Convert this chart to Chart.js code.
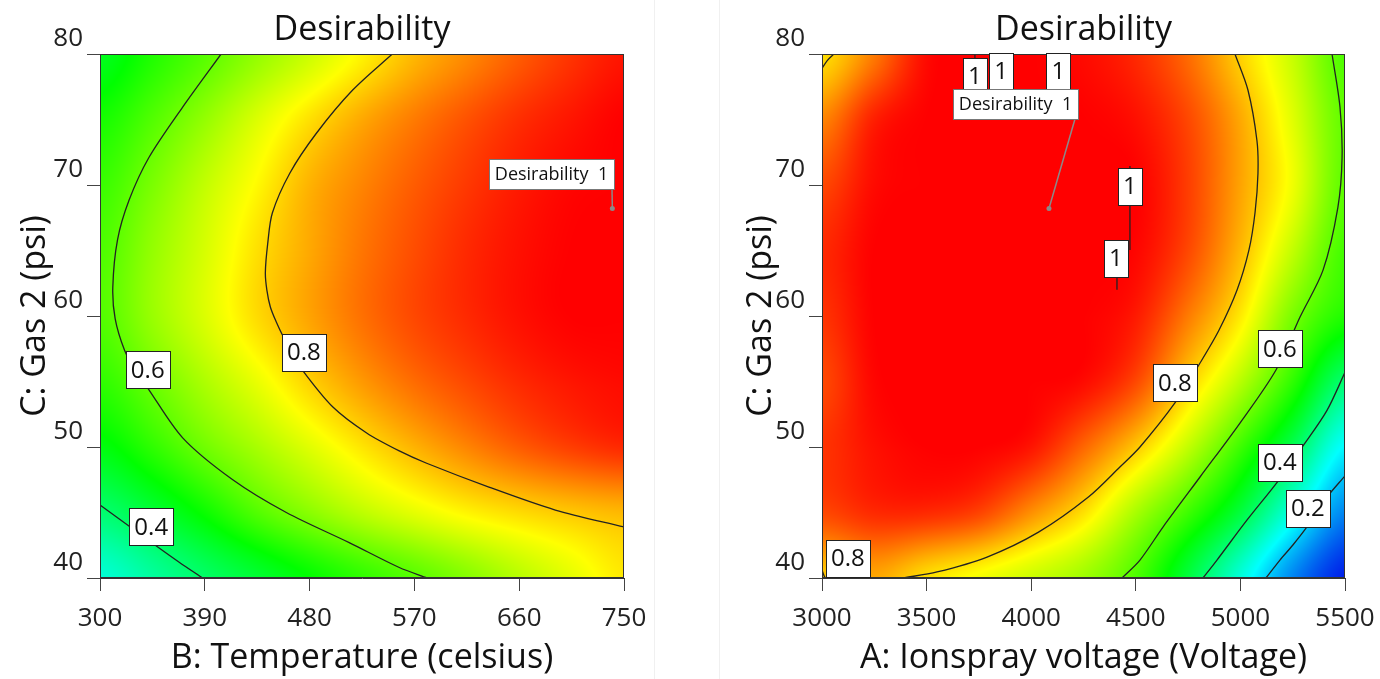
<!DOCTYPE html>
<html>
<head>
<meta charset="utf-8">
<script src="https://cdn.jsdelivr.net/npm/chart.js@4.4.0/dist/chart.umd.min.js"></script>
<style>
  html, body { margin: 0; padding: 0; background: #fff; }
  #wrap { position: relative; width: 1380px; height: 679px; }
  canvas { position: absolute; top: 0; }
  #left { left: 0; }
  #right { left: 690px; }
  .edge { position: absolute; top: 0; width: 1px; height: 679px; background: #f0f0f0; }
</style>
</head>
<body>
<div id="wrap">
  <canvas id="left" width="690" height="679"></canvas>
  <canvas id="right" width="690" height="679"></canvas>
  <div class="edge" style="left:654px"></div>
  <div class="edge" style="left:719px"></div>
</div>
<script>
// grid the desirability was read on
const tempGrid = [300, 345, 390, 435, 480, 525, 570, 615, 660, 705, 750];
const voltGrid = [3000, 3250, 3500, 3750, 4000, 4250, 4500, 4750, 5000, 5250, 5500];
const gasGrid = [80, 75, 70, 65, 60, 55, 50, 45, 40];

// desirability, one row per gasGrid value
const desTemp = [
  [0.47, 0.53, 0.585, 0.645, 0.70, 0.76, 0.82, 0.865, 0.91, 0.95, 0.98],
  [0.52, 0.58, 0.645, 0.715, 0.78, 0.835, 0.88, 0.92, 0.955, 0.98, 1.0],
  [0.555, 0.62, 0.69, 0.755, 0.825, 0.87, 0.91, 0.945, 0.975, 0.995, 1.0],
  [0.575, 0.645, 0.71, 0.78, 0.835, 0.885, 0.925, 0.96, 0.985, 1.0, 1.0],
  [0.58, 0.65, 0.715, 0.785, 0.84, 0.89, 0.93, 0.96, 0.985, 1.0, 1.0],
  [0.545, 0.605, 0.67, 0.73, 0.795, 0.85, 0.895, 0.93, 0.96, 0.98, 0.99],
  [0.485, 0.545, 0.61, 0.665, 0.72, 0.775, 0.825, 0.87, 0.91, 0.94, 0.96],
  [0.39, 0.445, 0.51, 0.58, 0.635, 0.685, 0.725, 0.76, 0.785, 0.805, 0.82],
  [0.29, 0.345, 0.40, 0.45, 0.50, 0.545, 0.585, 0.63, 0.68, 0.725, 0.77]
];
const desVolt = [
  [0.78, 0.88, 0.99, 1, 1, 0.99, 0.96, 0.895, 0.795, 0.695, 0.575],
  [0.87, 0.97, 1, 1, 1, 1, 0.985, 0.93, 0.835, 0.72, 0.595],
  [0.93, 0.99, 1, 1, 1, 1, 1, 0.94, 0.84, 0.735, 0.59],
  [0.96, 1, 1, 1, 1, 1, 0.995, 0.93, 0.82, 0.69, 0.565],
  [0.95, 1, 1, 1, 1, 1, 0.975, 0.88, 0.77, 0.62, 0.53],
  [0.93, 0.995, 1, 1, 1, 0.99, 0.93, 0.80, 0.68, 0.545, 0.39],
  [0.95, 0.985, 1, 1, 0.98, 0.90, 0.805, 0.69, 0.56, 0.42, 0.245],
  [0.93, 0.96, 0.96, 0.935, 0.86, 0.78, 0.665, 0.56, 0.44, 0.275, 0.13],
  [0.80, 0.835, 0.78, 0.74, 0.70, 0.655, 0.575, 0.44, 0.285, 0.13, 0.03]
];

// contour lines [x, gas]
const tempC04 = [[300, 45.57], [326, 43.9], [349, 42.4], [368, 41.2], [388, 40]];
const tempC06 = [[404, 80], [371, 75.95], [342, 72.1], [325, 68.85], [315, 65.8], [311, 62.2], [313, 59.8],
  [321, 57.4], [330, 55.9], [341, 54.5], [371, 50.7], [414, 47.5], [460, 45.0], [514, 42.7], [557, 40.8], [581, 40]];
const tempC08 = [[551, 80], [517, 77.25], [486, 73.97], [463, 70.9], [448, 67.86], [444, 65.5], [442, 63.3],
  [443.3, 61.98], [446.3, 60.69], [451.4, 59.54], [457.5, 58.4], [465.2, 57.17], [473.8, 55.87], [500, 53.05],
  [529, 51.07], [557, 49.7], [580, 48.78], [634, 46.94], [691, 45.19], [750, 43.9]];

const voltC02 = [[5500, 47.8], [5410, 46.1], [5318, 43.9], [5250, 42.5], [5189, 41.37], [5122, 40]];
const voltC04 = [[5500, 55.7], [5414, 52.8], [5300, 50.1], [5180, 47.4], [5032, 44.43], [4888, 41.37], [4821, 40]];
const voltC06 = [[5438, 80], [5476, 75.95], [5486, 72.1], [5466, 68.3], [5395, 63.5], [5285, 59.92], [5170, 55.88],
  [4998, 51.83], [4807, 47.71], [4630, 43.89], [4520, 41.37], [4434, 40]];
const voltC08 = [[4974, 80], [5036, 77.25], [5079, 73.4], [5084, 70.9], [5070, 67.9], [5041, 65.04], [4984, 61.98],
  [4898, 58.93], [4807, 56.41], [4687, 53.36], [4520, 50.0], [4424, 48.47], [4275, 46.2], [4035, 43.5],
  [3789, 41.6], [3550, 40.46], [3387, 40]];
const voltC08top = [[3000, 78.9], [3025, 79.5], [3057, 80]];
const voltC08low = [[3000, 40.6], [3008, 40.25], [3015, 40]];
const voltC1 = [
  [[4472, 71.45], [4472, 65.04]],
  [[4410, 65.8], [4410, 62.0]],
  [[3731, 80], [3731, 77.5]],
  [[3856, 80], [3856, 77]],
  [[4130, 80], [4130, 77]]
];

// contour labels [text, x, gas]
const tempLabels = [['0.6', 341, 55.9], ['0.8', 475, 57.25], ['0.4', 344, 43.9]];
const voltLabels = [['0.8', 4687, 54.9], ['0.6', 5189, 57.5], ['0.4', 5189, 48.85], ['0.2', 5323, 45.3],
  ['0.8', 3124, 41.5], ['1', 4472, 69.9], ['1', 4405, 64.4], ['1', 3731, 78.3], ['1', 3856, 78.7], ['1', 4130, 78.7]];

// optimum flags
const tempOpt = [740, 68.2];
const voltOpt = [4085, 68.2];

const FONT = "'Open Sans', 'Noto Sans', sans-serif";

const stops = [
  [0, [0, 0, 230]],
  [0.25, [0, 255, 255]],
  [0.5, [0, 255, 0]],
  [0.75, [255, 255, 0]],
  [1, [255, 0, 0]]
];

function colour(d) {
  d = Math.max(0, Math.min(1, d));
  for (let k = 1; k < stops.length; k++) {
    if (d <= stops[k][0]) {
      const [d0, c0] = stops[k - 1], [d1, c1] = stops[k];
      const t = (d - d0) / (d1 - d0);
      return [0, 1, 2].map(i => c0[i] + (c1[i] - c0[i]) * t);
    }
  }
  return stops[stops.length - 1][1];
}

function cr(p0, p1, p2, p3, t) {
  return p1 + 0.5 * t * (p2 - p0 + t * (2 * p0 - 5 * p1 + 4 * p2 - p3 + t * (3 * (p1 - p2) + p3 - p0)));
}

function sample(z, fx, fy) {
  const nr = z.length, nc = z[0].length;
  const i = Math.max(0, Math.min(Math.floor(fx), nc - 2));
  const j = Math.max(0, Math.min(Math.floor(fy), nr - 2));
  const tx = fx - i, ty = fy - j;
  const g = (r, c) => z[Math.max(0, Math.min(nr - 1, r))][Math.max(0, Math.min(nc - 1, c))];
  const rows = [];
  for (let k = -1; k <= 2; k++) rows.push(cr(g(j + k, i - 1), g(j + k, i), g(j + k, i + 1), g(j + k, i + 2), tx));
  return cr(rows[0], rows[1], rows[2], rows[3], ty);
}

const heatmap = {
  id: 'heatmap',
  beforeDatasetsDraw(chart, args, opts) {
    const { ctx, chartArea: a, scales: { x, y } } = chart;
    const x0 = Math.round(a.left), y0 = Math.round(a.top);
    const w = Math.round(a.right) - x0, h = Math.round(a.bottom) - y0;
    const img = ctx.createImageData(w, h);
    const xs = opts.xs, ys = opts.ys, z = opts.z;
    for (let j = 0; j < h; j++) {
      const gv = y.getValueForPixel(y0 + j + 0.5);
      const fy = (ys[0] - gv) / (ys[0] - ys[1]);
      for (let i = 0; i < w; i++) {
        const xv = x.getValueForPixel(x0 + i + 0.5);
        const fx = (xv - xs[0]) / (xs[1] - xs[0]);
        const c = colour(sample(z, fx, fy));
        const p = (j * w + i) * 4;
        img.data[p] = c[0]; img.data[p + 1] = c[1]; img.data[p + 2] = c[2]; img.data[p + 3] = 255;
      }
    }
    ctx.putImageData(img, x0, y0);
  }
};

function boxText(ctx, text, cx, cy, size, stroke) {
  ctx.font = size + 'px ' + FONT;
  const tw = ctx.measureText(text).width;
  const w = Math.round(tw + 10), h = Math.round(size * 1.55);
  const bx = Math.round(cx - w / 2), by = Math.round(cy - h / 2);
  ctx.fillStyle = '#fff';
  ctx.fillRect(bx, by, w, h);
  ctx.strokeStyle = stroke;
  ctx.lineWidth = 1;
  ctx.strokeRect(bx + 0.5, by + 0.5, w, h);
  ctx.fillStyle = '#111';
  ctx.textAlign = 'center';
  ctx.textBaseline = 'middle';
  ctx.fillText(text, cx, cy + 1);
}

const overlay = {
  id: 'overlay',
  afterDatasetsDraw(chart, args, opts) {
    const { ctx, chartArea: a, scales: { x, y } } = chart;
    ctx.save();
    // frame
    ctx.strokeStyle = '#333';
    ctx.lineWidth = 1;
    ctx.strokeRect(Math.round(a.left) + 0.5, Math.round(a.top) + 0.5, Math.round(a.right - a.left) - 1, Math.round(a.bottom - a.top) - 1);
    // contour labels
    opts.labels.forEach(([t, lx, ly]) => boxText(ctx, t, x.getPixelForValue(lx), y.getPixelForValue(ly), 24, '#222'));
    // optimum flag
    const px = x.getPixelForValue(opts.opt[0]), py = y.getPixelForValue(opts.opt[1]);
    ctx.font = '18px ' + FONT;
    const txt = 'Desirability  1';
    const bw = Math.round(ctx.measureText(txt).width + 12), bh = 30;
    const right = Math.round(px + opts.flag[0]), bottom = Math.round(py + opts.flag[1]);
    ctx.strokeStyle = '#8a8a8a';
    ctx.lineWidth = 1.5;
    ctx.beginPath();
    ctx.moveTo(right + opts.flag[2], bottom);
    ctx.lineTo(px, py);
    ctx.stroke();
    ctx.fillStyle = '#8a8a8a';
    ctx.beginPath();
    ctx.arc(px, py, 2.5, 0, Math.PI * 2);
    ctx.fill();
    ctx.fillStyle = '#fff';
    ctx.fillRect(right - bw, bottom - bh, bw, bh);
    ctx.strokeStyle = '#777';
    ctx.lineWidth = 1;
    ctx.strokeRect(right - bw + 0.5, bottom - bh + 0.5, bw, bh);
    ctx.fillStyle = '#111';
    ctx.textAlign = 'center';
    ctx.textBaseline = 'middle';
    ctx.fillText(txt, right - bw / 2, bottom - bh / 2 + 1);
    // title
    ctx.font = '34px ' + FONT;
    ctx.fillStyle = '#111';
    ctx.fillText('Desirability', (a.left + a.right) / 2, 30);
    ctx.restore();
  }
};

function line(pts) {
  return {
    data: pts.map(p => ({ x: p[0], y: p[1] })),
    showLine: true,
    borderColor: '#222',
    borderWidth: 1.3,
    pointRadius: 0,
    tension: 0.3,
    fill: false
  };
}

function makeChart(id, cfg) {
  const tickFont = { family: FONT, size: 26 };
  const titleFont = { family: FONT, size: 34 };
  return new Chart(document.getElementById(id), {
    type: 'scatter',
    data: { datasets: cfg.lines.map(line) },
    options: {
      responsive: false,
      animation: false,
      devicePixelRatio: 1,
      layout: { padding: { top: 54, right: cfg.padRight, left: 0, bottom: 0 } },
      plugins: {
        legend: { display: false },
        tooltip: { enabled: false },
        heatmap: { xs: cfg.xs, ys: gasGrid, z: cfg.z },
        overlay: { labels: cfg.labels, opt: cfg.opt, flag: cfg.flag }
      },
      scales: {
        x: {
          type: 'linear', min: cfg.xMin, max: cfg.xMax,
          ticks: { stepSize: cfg.xStep, autoSkip: false, maxRotation: 0, color: '#222', font: tickFont, padding: 12,
            callback: v => String(v) },
          grid: { drawOnChartArea: false, tickLength: 13, color: '#444' },
          border: { color: '#333' },
          title: { display: true, text: cfg.xTitle, color: '#111', font: titleFont, padding: { top: 0, bottom: 0 } },
          afterFit(s) { s.height = 101; s.paddingLeft = 0; s.paddingRight = 0; }
        },
        y: {
          type: 'linear', min: 40, max: 80,
          ticks: { stepSize: 10, autoSkip: false, color: '#222', font: tickFont, padding: 4, labelOffset: -15,
            callback: v => String(v) },
          grid: { drawOnChartArea: false, tickLength: 13, color: '#444' },
          border: { color: '#333' },
          title: { display: true, text: 'C: Gas 2 (psi)', color: '#111', font: titleFont, padding: { top: cfg.yTitlePad, bottom: 0 } },
          afterFit(s) { s.width = cfg.yWidth; s.paddingTop = 0; s.paddingBottom = 0; }
        }
      }
    },
    plugins: [heatmap, overlay]
  });
}

makeChart('left', {
  xs: tempGrid, z: desTemp, xMin: 300, xMax: 750, xStep: 90,
  xTitle: 'B: Temperature (celsius)', yWidth: 100, padRight: 66, yTitlePad: 15,
  lines: [tempC04, tempC06, tempC08],
  labels: tempLabels, opt: tempOpt, flag: [2, -20, -2]
});

makeChart('right', {
  xs: voltGrid, z: desVolt, xMin: 3000, xMax: 5500, xStep: 500,
  xTitle: 'A: Ionspray voltage (Voltage)', yWidth: 132, padRight: 35, yTitlePad: 51,
  lines: [voltC02, voltC04, voltC06, voltC08, voltC08top, voltC08low].concat(voltC1),
  labels: voltLabels, opt: voltOpt, flag: [29, -90, -3]
});
</script>
</body>
</html>
